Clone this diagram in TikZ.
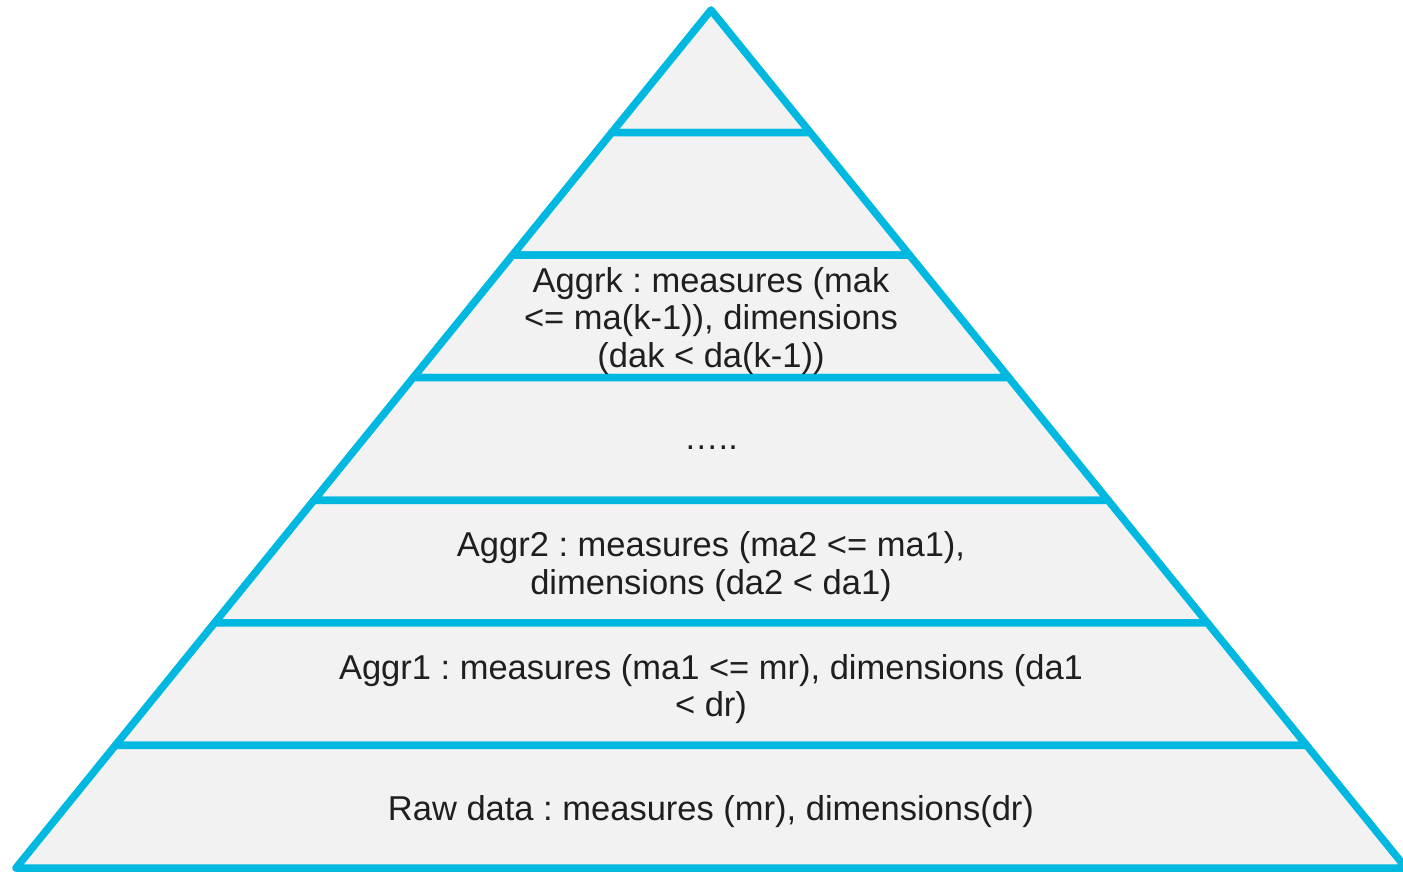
\documentclass[tikz,border=0pt]{standalone}
\usepackage{fontspec}
\setmainfont{Liberation Sans}
\definecolor{edge}{HTML}{00B8E0}
\definecolor{face}{HTML}{F2F2F2}
\begin{document}
\begin{tikzpicture}[x=1pt,y=-1pt,
  tier/.style={draw=edge,fill=face,line width=7.5pt,line join=round},
  tiertext/.style={font=\fontsize{34.5}{37.5}\selectfont\frenchspacing,align=center,text=black!88,inner sep=0pt}]
\useasboundingbox (0,0) rectangle (1403,875);
% corners of the tier boundaries, from apex (0) to base (7)
\foreach \i in {0,...,7}{
  \coordinate (L\i) at ({711-\i*99.2857},{10+\i*122.5714});
  \coordinate (R\i) at ({711+\i*99.2857},{10+\i*122.5714});
}
% the seven tiers
\foreach \i [evaluate=\i as \j using int(\i+1)] in {0,...,6}
  \draw[tier] (L\i) -- (R\i) -- (R\j) -- (L\j) -- cycle;
% tier captions
\node[tiertext] (aggk) at (711,321) {Aggrk : measures (mak\\<= ma(k-1)), dimensions\\(dak < da(k-1))};
\node[tiertext] (dots) at (711,448) {…..};
\node[tiertext] (agg2) at (711,566.5) {Aggr2 : measures (ma2 <= ma1),\\dimensions (da2 < da1)};
\node[tiertext] (agg1) at (711,689) {Aggr1 : measures (ma1 <= mr), dimensions (da1\\< dr)};
\node[tiertext] (raw) at (711,811.5) {Raw data : measures (mr), dimensions(dr)};
\end{tikzpicture}
\end{document}
